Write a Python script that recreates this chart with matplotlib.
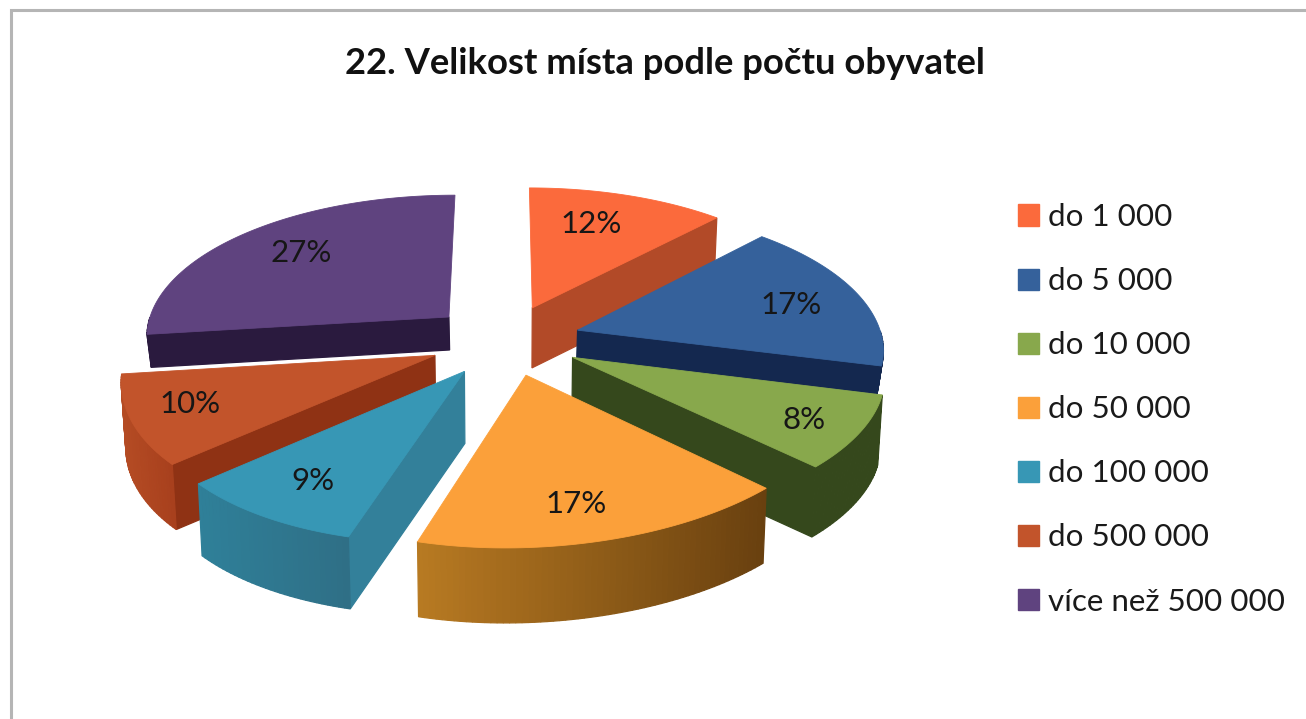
import numpy as np
import matplotlib
matplotlib.use("Agg")
import matplotlib.pyplot as plt
from matplotlib.patches import Patch, Polygon

# data
categories = ["do 1 000", "do 5 000", "do 10 000", "do 50 000", "do 100 000", "do 500 000", "více než 500 000"]
values = [12, 17, 8, 17, 9, 10, 27]
title = "22. Velikost místa podle počtu obyvatel"

# styles
top_colors = ["#fb6a3c", "#35619b", "#88a84c", "#fba03a", "#3797b5", "#c2542b", "#5f437f"]
cut_colors = ["#b24a28", "#14284f", "#35481c", "#a86a1e", "#33809a", "#8f3214", "#2a1a3e"]
rim_left = ["#b24a28", "#14284f", "#35481c", "#b87a22", "#2f8099", "#b54c24", "#2a1a3e"]
rim_right = ["#b24a28", "#14284f", "#35481c", "#69400f", "#2f6f86", "#a8401d", "#2a1a3e"]
heights = [60, 28, 70, 75, 72, 65, 33]
label_frac = [0.71, 0.75, 0.82, 0.79, 0.78, 0.81, 0.73]
label_turn = [-3.5, 2, 1, 3, 0, 2, 1.5]
FONT = "Lato"
CX, CY, R, RK, P, EXPLODE, SKEW = 505, 340, 305, 142.1, 0.123, 0.25, 16

fig = plt.figure(figsize=(13.06, 7.19), dpi=100, facecolor="white")
ax = fig.add_axes([0, 0, 1, 1])
ax.set_xlim(0, 1306)
ax.set_ylim(719, 0)
ax.axis("off")

ax.plot([11, 11, 1306], [719, 10, 10], color="#b5b5b5", lw=2.2, solid_joinstyle="miter")


def project(X, Y, h=0.0):
    X, Y = np.asarray(X, float), np.asarray(Y, float)
    s = 1 / (1 - P * Y)
    shrink = 1 - 0.012 * (h > 0)
    return CX + (R * X * s - SKEW * np.clip(Y, 0, None) ** 2) * shrink, CY + RK * Y * s + h


def mix(a, b, t):
    ca, cb = np.array(matplotlib.colors.to_rgb(a)), np.array(matplotlib.colors.to_rgb(b))
    return tuple(ca + (cb - ca) * t)


edges = np.cumsum([0] + values) / sum(values) * 2 * np.pi
slices = []
for i in range(len(values)):
    a0, a1 = edges[i], edges[i + 1]
    m = (a0 + a1) / 2
    ex, ey = EXPLODE * np.sin(m), -EXPLODE * np.cos(m)
    t = np.linspace(a0, a1, max(int(np.degrees(a1 - a0)), 4) + 1)
    slices.append((i, t, m, ex, ey))

# painter's order: from the back of the pie to the front
for i, t, m, ex, ey in sorted(slices, key=lambda q: -np.cos(q[2])):
    h = heights[i]
    X = np.sin(t) + ex
    Y = -np.cos(t) + ey
    walls = []
    # the radial cuts that face the viewer
    cuts = []
    if np.sin(t[0]) < -1e-6:
        cuts.append((X[0], Y[0]))
    if np.sin(t[-1]) > 1e-6:
        cuts.append((X[-1], Y[-1]))
    for xa, ya in cuts:
        tx0, ty0 = project(ex, ey)
        tx1, ty1 = project(xa, ya)
        bx1, by1 = project(xa, ya, h)
        bx0, by0 = project(ex, ey, h)
        walls.append(((ey + ya) / 2, [(tx0, ty0), (tx1, ty1), (bx1, by1), (bx0, by0)], cut_colors[i]))
    # the rim facing the viewer, in short strips
    xt, yt = project(X, Y)
    xb, yb = project(X, Y, h)
    xmin, xmax = xt.min(), xt.max()
    for j in range(len(t) - 1):
        if -np.cos((t[j] + t[j + 1]) / 2) < 0:
            continue
        pts = [(xt[j], yt[j]), (xt[j + 1], yt[j + 1]), (xb[j + 1], yb[j + 1]), (xb[j], yb[j])]
        f = ((xt[j] + xt[j + 1]) / 2 - xmin) / max(xmax - xmin, 1)
        walls.append(((Y[j] + Y[j + 1]) / 2, pts, mix(rim_left[i], rim_right[i], f)))
    for _, pts, col in sorted(walls, key=lambda w: w[0]):
        ax.add_patch(Polygon(pts, closed=True, facecolor=col, edgecolor=col, lw=0.9))
    top = [project(ex, ey)] + list(zip(xt, yt))
    ax.add_patch(Polygon(top, closed=True, facecolor=top_colors[i], edgecolor=top_colors[i], lw=0.6))

for i, t, m, ex, ey in slices:
    ml = m + np.radians(label_turn[i])
    lx, ly = project(ex + label_frac[i] * np.sin(ml), ey - label_frac[i] * np.cos(ml))
    ax.text(lx, ly, f"{values[i]}%", ha="center", va="center", fontsize=22.5, family=FONT, color="#161616")

ax.text(665, 63, title, ha="center", va="center", fontsize=26.2, fontweight="bold", family=FONT, color="#111111")

handles = [Patch(facecolor=c, edgecolor=c) for c in top_colors]
leg = ax.legend(handles, categories, loc="upper left", bbox_to_anchor=(1018 / 1306, 1 - 203 / 719),
                frameon=False, prop={"family": FONT, "size": 22.6}, labelspacing=1.15,
                handlelength=0.66, handleheight=0.66, handletextpad=0.3, borderpad=0, borderaxespad=0,
                labelcolor="#1a1a1a")

fig.savefig("out.png", dpi=100)
